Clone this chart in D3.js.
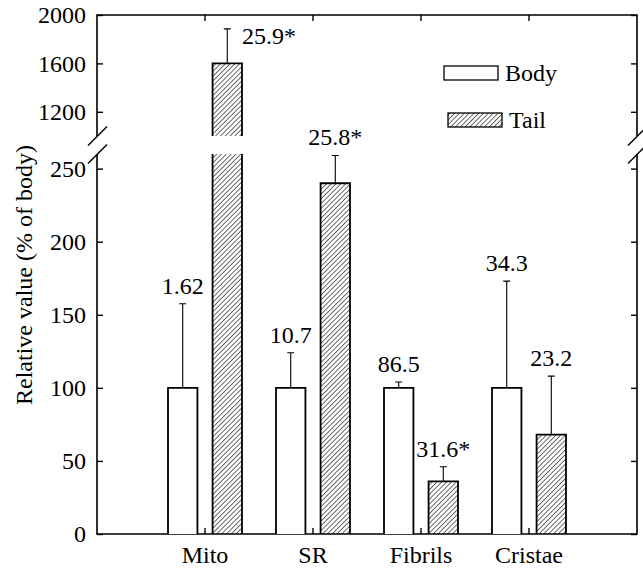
<!DOCTYPE html>
<html>
<head>
<meta charset="utf-8">
<script src="https://cdnjs.cloudflare.com/ajax/libs/d3/7.8.5/d3.min.js"></script>
<style>
  body { margin: 0; background: #fff; }
  svg { display: block; }
</style>
</head>
<body>
<div id="chart"></div>
<script>
// data
var categories = ['Mito', 'SR', 'Fibrils', 'Cristae'];
var groups = ['Body', 'Tail'];
var bodyValues = [100, 100, 100, 100];
var bodyErrors = [57.5, 24, 4, 73];
var tailValues = [1600, 240, 36, 68];
var tailErrors = [285, 19, 10, 40];
var bodyLabels = ['1.62', '10.7', '86.5', '34.3'];
var tailLabels = ['25.9*', '25.8*', '31.6*', '23.2'];
var upperTicks = [1200, 1600, 2000];
var lowerTicks = [0, 50, 100, 150, 200, 250];

var FONT = '"Liberation Serif", "Times New Roman", "Nimbus Roman", "DejaVu Serif", serif';
var FSIZE = 24;
var width = 643, height = 568;
var plotL = 97, plotR = 637, plotT = 15, plotB = 534;
var breakTop = 136, breakBottom = 154;

var svg = d3.select('#chart').append('svg')
    .attr('width', width)
    .attr('height', height)
    .attr('font-family', FONT)
    .attr('font-size', FSIZE);

// hatch for the tail bars
var defs = svg.append('defs');
defs.append('pattern')
    .attr('id', 'hatch')
    .attr('patternUnits', 'userSpaceOnUse')
    .attr('width', 3.4)
    .attr('height', 3.4)
    .attr('patternTransform', 'rotate(45)')
    .append('line')
    .attr('x1', 0).attr('y1', 0)
    .attr('x2', 0).attr('y2', 3.4)
    .attr('stroke', '#000')
    .attr('stroke-width', 1.15);

// scales
var x = d3.scaleBand()
    .domain(categories)
    .range([plotL + 54, plotR - 54]);

var xSub = d3.scaleBand()
    .domain(groups)
    .range([-37, 37])
    .paddingInner(0.34);

var yUp = d3.scaleLinear()
    .domain([1000, 2000])
    .range([breakTop, plotT]);

var yLow = d3.scaleLinear()
    .domain([0, 260])
    .range([plotB, breakBottom]);

function cx(c) { return x(c) + x.bandwidth() / 2; }

// axes, ticks point inward
var fmt = d3.format('d');
var axisUpL = d3.axisLeft(yUp).tickValues(upperTicks).tickFormat(fmt).tickSizeInner(-6).tickSizeOuter(0).tickPadding(11);
var axisLowL = d3.axisLeft(yLow).tickValues(lowerTicks).tickFormat(fmt).tickSizeInner(-6).tickSizeOuter(0).tickPadding(11);
var axisUpR = d3.axisRight(yUp).tickValues(upperTicks).tickSizeInner(-6).tickSizeOuter(0).tickFormat('');
var axisLowR = d3.axisRight(yLow).tickValues(lowerTicks).tickSizeInner(-6).tickSizeOuter(0).tickFormat('');
var axisB = d3.axisBottom(x).tickSizeInner(-6).tickSizeOuter(0).tickPadding(12);
var axisT = d3.axisTop(x).tickSizeInner(-6).tickSizeOuter(0).tickFormat('');

function styleAxis(g) {
    g.attr('font-family', FONT).attr('font-size', FSIZE);
    g.select('.domain').remove();
    g.selectAll('.tick line').attr('stroke', '#000').attr('stroke-width', 1.4);
    g.selectAll('.tick text').attr('fill', '#000');
}

svg.append('g').attr('transform', 'translate(' + plotL + ',0)').call(axisUpL).call(styleAxis);
svg.append('g').attr('transform', 'translate(' + plotL + ',0)').call(axisLowL).call(styleAxis);
svg.append('g').attr('transform', 'translate(' + plotR + ',0)').call(axisUpR).call(styleAxis);
svg.append('g').attr('transform', 'translate(' + plotR + ',0)').call(axisLowR).call(styleAxis);
svg.append('g').attr('transform', 'translate(0,' + plotB + ')').call(axisB).call(styleAxis);
svg.append('g').attr('transform', 'translate(0,' + plotT + ')').call(axisT).call(styleAxis);

// frame with the broken vertical sides
var frame = svg.append('g')
    .attr('fill', 'none')
    .attr('stroke', '#000')
    .attr('stroke-width', 1.6);

frame.append('path')
    .attr('d', 'M' + plotL + ',' + yUp(1000) + 'V' + plotT + 'H' + plotR + 'V' + yUp(1000));
frame.append('path')
    .attr('d', 'M' + plotL + ',' + yLow(260) + 'V' + plotB + 'H' + plotR + 'V' + yLow(260));

// break slashes
[plotL, plotR].forEach(function(xx) {
    [yUp(1000), yLow(260)].forEach(function(yy) {
        frame.append('line')
            .attr('x1', xx - 9).attr('y1', yy + 9.5)
            .attr('x2', xx + 10).attr('y2', yy - 9.5)
            .attr('stroke-width', 1.4);
    });
});

// one entry per bar
var bars = [];
categories.forEach(function(c, i) {
    bars.push({cat: c, group: 'Body', value: bodyValues[i], err: bodyErrors[i], label: bodyLabels[i]});
    bars.push({cat: c, group: 'Tail', value: tailValues[i], err: tailErrors[i], label: tailLabels[i]});
});

var barG = svg.append('g');

bars.forEach(function(d) {
    var x0 = cx(d.cat) + xSub(d.group);
    var w = xSub.bandwidth();
    var fill = d.group === 'Body' ? '#fff' : 'url(#hatch)';
    var broken = d.value > 260;

    // lower panel piece
    var topLow = yLow(Math.min(d.value, 260));
    barG.append('rect')
        .attr('x', x0).attr('y', topLow)
        .attr('width', w).attr('height', plotB - topLow)
        .attr('fill', fill);
    barG.append('path')
        .attr('d', broken
            ? 'M' + x0 + ',' + plotB + 'V' + topLow + 'M' + (x0 + w) + ',' + topLow + 'V' + plotB
            : 'M' + x0 + ',' + plotB + 'V' + topLow + 'H' + (x0 + w) + 'V' + plotB)
        .attr('fill', 'none')
        .attr('stroke', '#000')
        .attr('stroke-width', 1.8);

    // upper panel piece
    var yScale = yLow;
    if (broken) {
        yScale = yUp;
        var topUp = yUp(d.value);
        barG.append('rect')
            .attr('x', x0).attr('y', topUp)
            .attr('width', w).attr('height', yUp(1000) - topUp)
            .attr('fill', fill);
        barG.append('path')
            .attr('d', 'M' + x0 + ',' + yUp(1000) + 'V' + topUp + 'H' + (x0 + w) + 'V' + yUp(1000))
            .attr('fill', 'none')
            .attr('stroke', '#000')
            .attr('stroke-width', 1.8);
    }

    // error bar, upper side only
    var mid = x0 + w / 2;
    var yTop = yScale(d.value + d.err);
    barG.append('path')
        .attr('d', 'M' + mid + ',' + yScale(d.value) + 'V' + yTop + 'M' + (mid - 3.5) + ',' + yTop + 'H' + (mid + 3.5))
        .attr('fill', 'none')
        .attr('stroke', '#000')
        .attr('stroke-width', 1.1);

    // value label
    var t = barG.append('text').text(d.label);
    if (broken) {
        t.attr('x', x0 + w).attr('y', yTop + 15);
    } else {
        t.attr('x', mid).attr('y', yTop - 10).attr('text-anchor', 'middle');
    }
});

// legend
var legend = svg.append('g');
var legendRows = [
    {name: 'Body', fill: '#fff', x: 444, y: 66},
    {name: 'Tail', fill: 'url(#hatch)', x: 448, y: 113}
];
legendRows.forEach(function(r) {
    legend.append('rect')
        .attr('x', r.x).attr('y', r.y)
        .attr('width', 54).attr('height', 14)
        .attr('fill', r.fill)
        .attr('stroke', '#000')
        .attr('stroke-width', 1.3);
    legend.append('text')
        .attr('x', r.x + 61).attr('y', r.y + 15)
        .text(r.name);
});

// y title
svg.append('text')
    .attr('transform', 'translate(32,275) rotate(-90)')
    .attr('text-anchor', 'middle')
    .text('Relative value (% of body)');
</script>
</body>
</html>
